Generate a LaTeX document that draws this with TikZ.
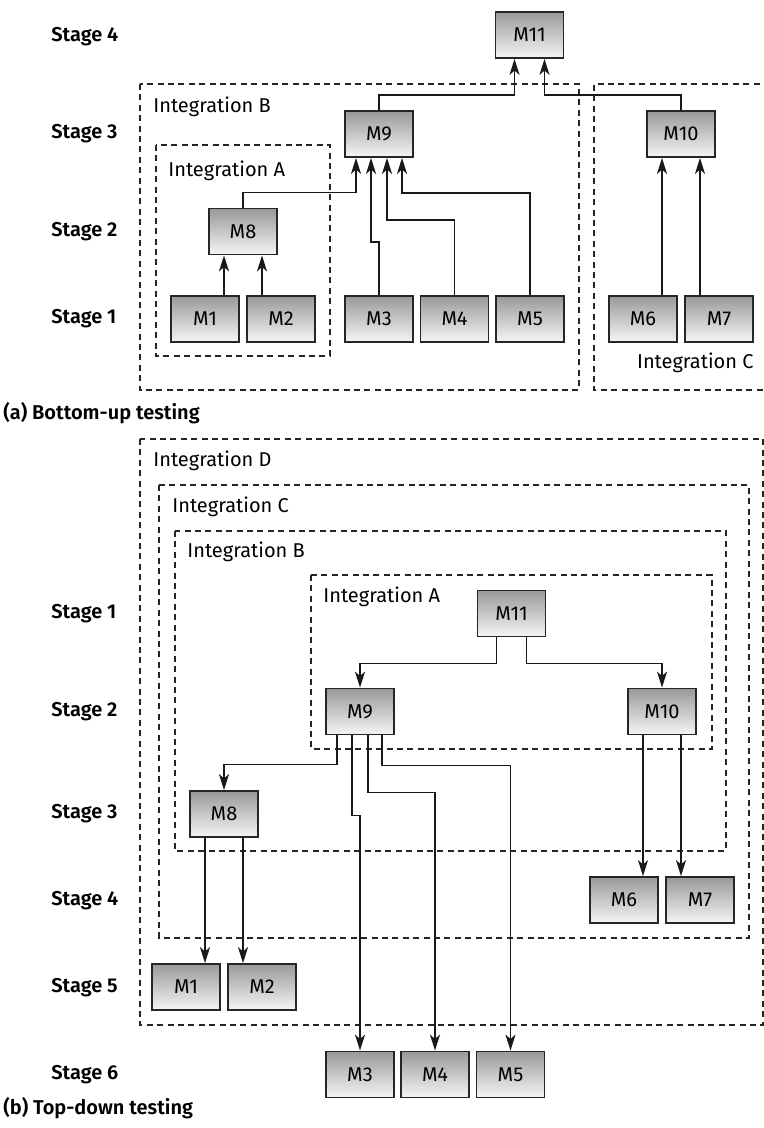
\documentclass[tikz,border=0pt]{standalone}
\usepackage{fontspec}
\setmainfont{Fira Sans}[BoldFont={Fira Sans SemiBold}]
\usetikzlibrary{arrows.meta}

\begin{document}
\begin{tikzpicture}[x=0.5pt,y=-0.5pt,font=\fontsize{10}{12}\selectfont,
    mod/.style={draw=black!85,line width=0.9pt,top color=black!40,bottom color=black!4,
      minimum width=34pt,minimum height=23pt,inner sep=0pt},
    stage/.style={anchor=west,inner sep=0pt,font=\fontsize{10}{12}\selectfont\bfseries},
    grp/.style={anchor=west,inner sep=0pt},
    intbox/.style={draw=black!85,line width=0.7pt,dash pattern=on 3pt off 2.2pt},
    arr/.style={draw=black!90,line width=0.8pt,-{Stealth[length=8pt,width=5pt,inset=2.2pt]}}]
  \useasboundingbox (0,0) rectangle (764,1128);

  % (a) bottom-up
  \draw[intbox] (140,84) rectangle (579,390);
  \draw[intbox] (156,145) rectangle (330,356);
  \draw[intbox] (770,84) -- (594,84) -- (594,390) -- (770,390);
  \node (ibA) at (153,107) [grp] {Integration B};
  \node (iaA) at (168,171) [grp] {Integration A};
  \node (icA) at (754,363) [grp,anchor=east] {Integration C};

  \node (sa4) at (51,37) [stage] {Stage 4};
  \node (sa3) at (51,134) [stage] {Stage 3};
  \node (sa2) at (51,232) [stage] {Stage 2};
  \node (sa1) at (51,319) [stage] {Stage 1};

  \node (a11) at (529.5,35) [mod] {M11};
  \node (a9) at (379,134) [mod] {M9};
  \node (a10) at (681,134) [mod] {M10};
  \node (a8) at (243,231.5) [mod] {M8};
  \node (a1) at (205,319) [mod] {M1};
  \node (a2) at (281,319) [mod] {M2};
  \node (a3) at (379,319) [mod] {M3};
  \node (a4) at (454.5,319) [mod] {M4};
  \node (a5) at (530,319) [mod] {M5};
  \node (a6) at (643,319) [mod] {M6};
  \node (a7) at (719,319) [mod] {M7};

  \draw[arr] ([xshift=9.5pt]a1.north) -- ([xshift=-9.5pt]a8.south);
  \draw[arr] ([xshift=-9.5pt]a2.north) -- ([xshift=9.5pt]a8.south);
  \draw[arr] (a8.north) -- ++(0,-15) -| ([xshift=-11.5pt]a9.south);
  \draw[arr] (a3.north) -- ++(0,-53) -| ([xshift=-4pt]a9.south);
  \draw[arr] (a4.north) -- ++(0,-75) -| ([xshift=4pt]a9.south);
  \draw[arr] (a5.north) -- ++(0,-102) -| ([xshift=11.5pt]a9.south);
  \draw[arr] (a9.north) -- ++(0,-15) -| ([xshift=-7.5pt]a11.south);
  \draw[arr] (a10.north) -- ++(0,-15) -| ([xshift=7.5pt]a11.south);
  \draw[arr] ([xshift=9.5pt]a6.north) -- ([xshift=-9.5pt]a10.south);
  \draw[arr] ([xshift=-9.5pt]a7.north) -- ([xshift=9.5pt]a10.south);

  \node (capA) at (3,413) [stage] {(a) Bottom-up testing};

  % (b) top-down
  \draw[intbox] (140,439) rectangle (763,1025);
  \draw[intbox] (159,485) rectangle (749,938);
  \draw[intbox] (175,531) rectangle (726,851);
  \draw[intbox] (311,575) rectangle (712,749);
  \node (idB) at (153,461) [grp] {Integration D};
  \node (icB) at (172,507) [grp] {Integration C};
  \node (ibB) at (187,552) [grp] {Integration B};
  \node (iaB) at (323,597) [grp] {Integration A};

  \node (sb1) at (51,614) [stage] {Stage 1};
  \node (sb2) at (51,712) [stage] {Stage 2};
  \node (sb3) at (51,814) [stage] {Stage 3};
  \node (sb4) at (51,901) [stage] {Stage 4};
  \node (sb5) at (51,988) [stage] {Stage 5};
  \node (sb6) at (51,1075) [stage] {Stage 6};

  \node (b11) at (511.5,613.5) [mod] {M11};
  \node (b9) at (360,711.5) [mod] {M9};
  \node (b10) at (662,711.5) [mod] {M10};
  \node (b8) at (224,814) [mod] {M8};
  \node (b6) at (624,900) [mod] {M6};
  \node (b7) at (700,900) [mod] {M7};
  \node (b1) at (186,987) [mod] {M1};
  \node (b2) at (262,987) [mod] {M2};
  \node (b3) at (360,1074.5) [mod] {M3};
  \node (b4) at (435,1074.5) [mod] {M4};
  \node (b5) at (510.5,1074.5) [mod] {M5};

  \draw[arr] ([xshift=-7.5pt]b11.south) -- ++(0,26) -| (b9.north);
  \draw[arr] ([xshift=7.5pt]b11.south) -- ++(0,26) -| (b10.north);
  \draw[arr] ([xshift=-11.5pt]b9.south) -- ++(0,29) -| (b8.north);
  \draw[arr] ([xshift=-4pt]b9.south) -- ++(0,80) -| (b3.north);
  \draw[arr] ([xshift=4pt]b9.south) -- ++(0,57) -| (b4.north);
  \draw[arr] ([xshift=11pt]b9.south) -- ++(0,30) -| (b5.north);
  \draw[arr] ([xshift=-9.5pt]b8.south) -- ([xshift=9.5pt]b1.north);
  \draw[arr] ([xshift=9.5pt]b8.south) -- ([xshift=-9.5pt]b2.north);
  \draw[arr] ([xshift=-9.5pt]b10.south) -- ([xshift=9.5pt]b6.north);
  \draw[arr] ([xshift=9.5pt]b10.south) -- ([xshift=-9.5pt]b7.north);

  \node (capB) at (3,1108) [stage] {(b) Top-down testing};
\end{tikzpicture}
\end{document}
